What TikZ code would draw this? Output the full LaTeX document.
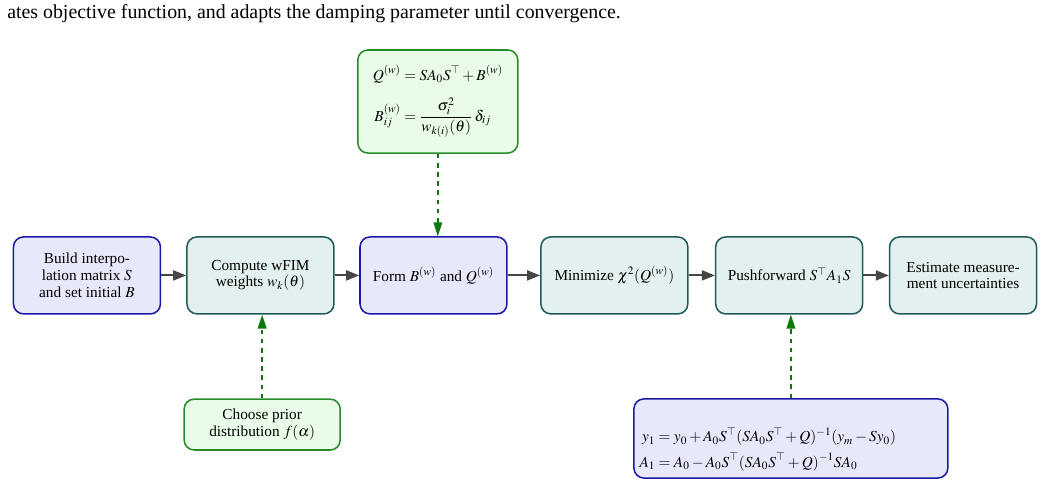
\documentclass[tikz,border=0pt]{standalone}
\usepackage{amsmath}
\usepackage{mathptmx}
\usepackage[no-math]{fontspec}
\newfontfamily\timesfont{Liberation Serif}
\usetikzlibrary{arrows.meta}

\definecolor{bluefill}{HTML}{E8E8FB}
\definecolor{blueline}{HTML}{1A1AA6}
\definecolor{tealfill}{HTML}{E3F0F0}
\definecolor{tealline}{HTML}{1F5C58}
\definecolor{greenfill}{HTML}{E8FCE8}
\definecolor{greenline}{HTML}{2A8A2A}
\definecolor{flowgray}{HTML}{464646}
\definecolor{feedgreen}{HTML}{0A7A0A}

\begin{document}
\begin{tikzpicture}[
        font=\timesfont\fontsize{10}{11}\selectfont,
        box/.style={rounded corners=2.3mm, line width=1pt, align=center,
                    minimum width=3.38cm, minimum height=1.77cm, inner sep=0.12cm},
        bluebox/.style={box, draw=blueline, fill=bluefill},
        tealbox/.style={box, draw=tealline, fill=tealfill},
        flow/.style={-{Triangle[length=0.3cm,width=0.23cm]}, line width=1.3pt, draw=flowgray},
        feed/.style={-{Triangle[length=0.32cm,width=0.2cm]}, line width=1pt, draw=feedgreen,
                     dash pattern=on 3pt off 3pt}
    ]
        \useasboundingbox (0,0) rectangle (24.127,11.155);
        \node[anchor=base west, inner sep=0pt, font=\timesfont\fontsize{13}{15}\selectfont]
            (cap) at (0.16,10.74)
            {ates objective function, and adapts the damping parameter until convergence.};

        % main row
        \node[bluebox] (build) at (2.00,4.82) {Build interpo-\\lation matrix $S$\\and set initial $B$};
        \node[tealbox] (wfim) at (5.99,4.82) {Compute wFIM\\weights $w_k(\theta)$};
        \node[bluebox] (form) at (9.97,4.82) {Form $B^{(w)}$ and $Q^{(w)}$};
        \node[tealbox] (chisq) at (14.13,4.82) {Minimize $\chi^2(Q^{(w)})$};
        \node[tealbox] (push) at (18.15,4.82) {Pushforward $S^\top A_1 S$};
        \node[tealbox] (meas) at (22.15,4.82) {Estimate measure-\\ment uncertainties};

        % side notes
        \node[box, draw=greenline, fill=greenfill, minimum width=3.68cm, minimum height=2.37cm]
            (wq) at (10.07,8.82)
            {$\begin{aligned}
                Q^{(w)} &= S A_0 S^\top + B^{(w)}\\[4pt]
                B^{(w)}_{ij} &= \frac{\sigma_i^2}{w_{k(i)}(\theta)}\,\delta_{ij}
            \end{aligned}$};
        \node[box, draw=greenline, fill=greenfill, minimum width=3.59cm, minimum height=1.17cm]
            (prior) at (6.03,1.39) {Choose prior\\distribution $f(\alpha)$};
        \node[box, draw=blueline, fill=bluefill, minimum width=7.22cm, minimum height=1.82cm,
              text width=6.96cm, align=left]
            (update) at (18.19,1.07)
            {$\begin{aligned}
                &\\
                y_1 &= y_0 + A_0 S^\top (S A_0 S^\top + Q)^{-1} (y_m - S y_0)\\
                A_1 &= A_0 - A_0 S^\top (S A_0 S^\top + Q)^{-1} S A_0
            \end{aligned}$};

        \draw[flow] (build) -- (wfim);
        \draw[flow] (wfim) -- (form);
        \draw[flow] (form) -- (chisq);
        \draw[flow] (chisq) -- (push);
        \draw[flow] (push) -- (meas);

        \draw[feed] (wq.south) -- (wq.south |- form.north);
        \draw[feed] (prior.north) -- (prior.north |- wfim.south);
        \draw[feed] (update.north) -- (update.north |- push.south);
    \end{tikzpicture}
\end{document}
